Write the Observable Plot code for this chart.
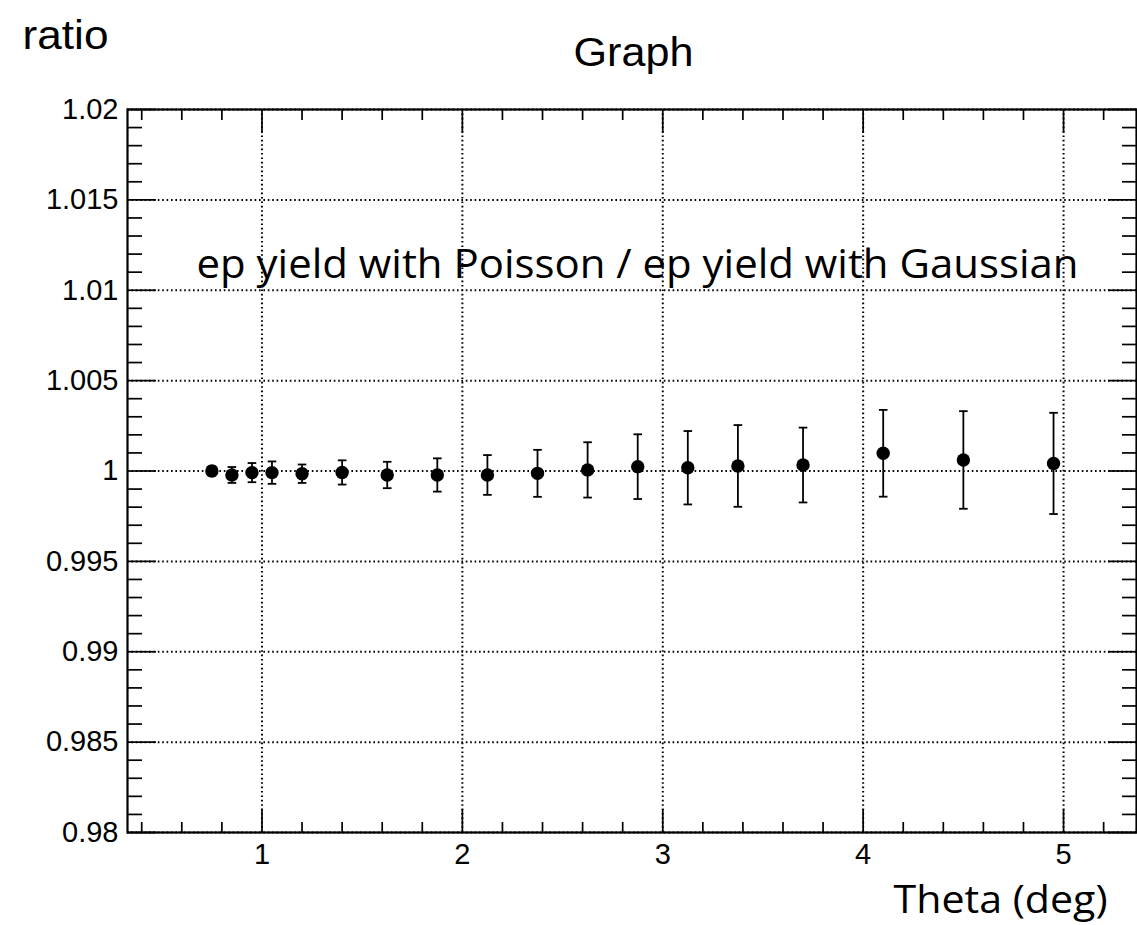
<!DOCTYPE html>
<html><head><meta charset="utf-8">
<script src="https://cdn.jsdelivr.net/npm/d3@7"></script>
<script src="https://cdn.jsdelivr.net/npm/@observablehq/plot@0.6"></script>
<style>body{margin:0;background:#fff}</style>
</head><body><div id="chart"></div>
<script>
const theta = [0.75,0.85,0.95,1.05,1.2,1.4,1.625,1.875,2.125,2.375,2.625,2.875,3.125,3.375,3.7,4.1,4.5,4.95];
const ratio = [1.0000,0.99978,0.99991,0.99991,0.99985,0.99992,0.99978,0.99978,0.99978,0.99987,1.00006,1.00024,1.00018,1.00028,1.00033,1.00098,1.00061,1.00042];
const err = [0.00025,0.00044,0.00053,0.00062,0.00051,0.00067,0.00073,0.00092,0.0011,0.0013,0.00153,0.00179,0.00203,0.00226,0.00207,0.0024,0.0027,0.0028];
const xMajor = [1,2,3,4,5];
const xMinor = [0.4,0.6,0.8,1.2,1.4,1.6,1.8,2.2,2.4,2.6,2.8,3.2,3.4,3.6,3.8,4.2,4.4,4.6,4.8,5.2];
const yMajor = [0.98,0.985,0.99,0.995,1,1.005,1.01,1.015,1.02];
const yMinor = [0.981,0.982,0.983,0.984,0.986,0.987,0.988,0.989,0.991,0.992,0.993,0.994,0.996,0.997,0.998,0.999,1.001,1.002,1.003,1.004,1.006,1.007,1.008,1.009,1.011,1.012,1.013,1.014,1.016,1.017,1.018,1.019];
const title = "Graph";
const yTitle = "ratio";
const xTitle = "Theta (deg)";
const note = "ep yield with Poisson / ep yield with Gaussian";

const data = theta.map((t, i) => ({theta: t, ratio: ratio[i], err: err[i]}));
const cap = {draw(ctx, size) { const r = Math.sqrt(size / Math.PI); ctx.moveTo(-r, 0); ctx.lineTo(r, 0); }};
const fmt = d => String(+d.toFixed(3));
const ax = {stroke: "black", fill: "none", label: null};
const gridStyle = {stroke: "black", strokeOpacity: 1, strokeWidth: 2, strokeDasharray: "1.6,2.8"};

const chart = Plot.plot({
  width: 1137, height: 925,
  marginLeft: 127, marginRight: 1, marginTop: 109, marginBottom: 93,
  style: {fontFamily: "Liberation Sans, Arial, sans-serif", color: "black", background: "white"},
  x: {domain: [0.329, 5.364]},
  y: {domain: [0.98, 1.02]},
  marks: [
    Plot.gridX(xMajor, gridStyle),
    Plot.gridY(yMajor, gridStyle),
    Plot.axisX({...ax, anchor: "bottom", ticks: xMajor, tickSize: -23, strokeWidth: 1.7}),
    Plot.axisX({...ax, anchor: "bottom", ticks: xMinor, tickSize: -10, strokeWidth: 1.7}),
    Plot.axisX({...ax, anchor: "top", ticks: xMajor, tickSize: -23, strokeWidth: 1.7}),
    Plot.axisX({...ax, anchor: "top", ticks: xMinor, tickSize: -10, strokeWidth: 1.7}),
    Plot.axisY({...ax, anchor: "left", ticks: yMajor, tickSize: -29, strokeWidth: 1.7}),
    Plot.axisY({...ax, anchor: "left", ticks: yMinor, tickSize: -15, strokeWidth: 1.7}),
    Plot.axisY({...ax, anchor: "right", ticks: yMajor, tickSize: -29, strokeWidth: 1.7}),
    Plot.axisY({...ax, anchor: "right", ticks: yMinor, tickSize: -15, strokeWidth: 1.7}),
    Plot.axisX({anchor: "bottom", ticks: xMajor, tickSize: 0, tickPadding: 11, stroke: "none", fill: "black", label: null, fontSize: 29, tickFormat: fmt}),
    Plot.axisY({anchor: "left", ticks: yMajor, tickSize: 0, tickPadding: 9, stroke: "none", fill: "black", label: null, fontSize: 29, tickFormat: fmt}),
    Plot.frame({stroke: "black", strokeWidth: 2.2}),
    Plot.ruleX(data, {x: "theta", y1: d => d.ratio - d.err, y2: d => d.ratio + d.err, stroke: "black", strokeWidth: 1.8}),
    Plot.dot(data, {x: "theta", y: d => d.ratio - d.err, symbol: cap, r: 4.3, stroke: "black", strokeWidth: 1.8}),
    Plot.dot(data, {x: "theta", y: d => d.ratio + d.err, symbol: cap, r: 4.3, stroke: "black", strokeWidth: 1.8}),
    Plot.dot(data, {x: "theta", y: "ratio", r: 6.7, fill: "black", stroke: "none"}),
    Plot.text([note], {text: d => d, frameAnchor: "top", dx: 5.5, dy: 168, lineAnchor: "bottom", fontSize: 40, fontFamily: "Open Sans", fill: "black", className: "annot"}),
    Plot.text([xTitle], {text: d => d, frameAnchor: "bottom-right", textAnchor: "end", dx: -29, dy: 80, lineAnchor: "bottom", fontSize: 38, fontFamily: "Open Sans", fill: "black", className: "xtitle"}),
    Plot.text([title], {text: d => d, frameAnchor: "top", dx: 1.5, dy: -44, lineAnchor: "bottom", fontSize: 41, fill: "black", className: "gtitle"}),
    Plot.text([yTitle], {text: d => d, frameAnchor: "top-left", textAnchor: "start", dx: -105, dy: -61, lineAnchor: "bottom", fontSize: 41, fill: "black", className: "ytitle"})
  ]
});
document.getElementById("chart").appendChild(chart);
function fit(sel, len) {
  const t = chart.querySelector(sel + " text");
  if (t) { t.setAttribute("textLength", len); t.setAttribute("lengthAdjust", "spacingAndGlyphs"); }
}
fit(".annot", 882);
fit(".xtitle", 214);
fit(".gtitle", 120);
fit(".ytitle", 86);
</script>
</body></html>
